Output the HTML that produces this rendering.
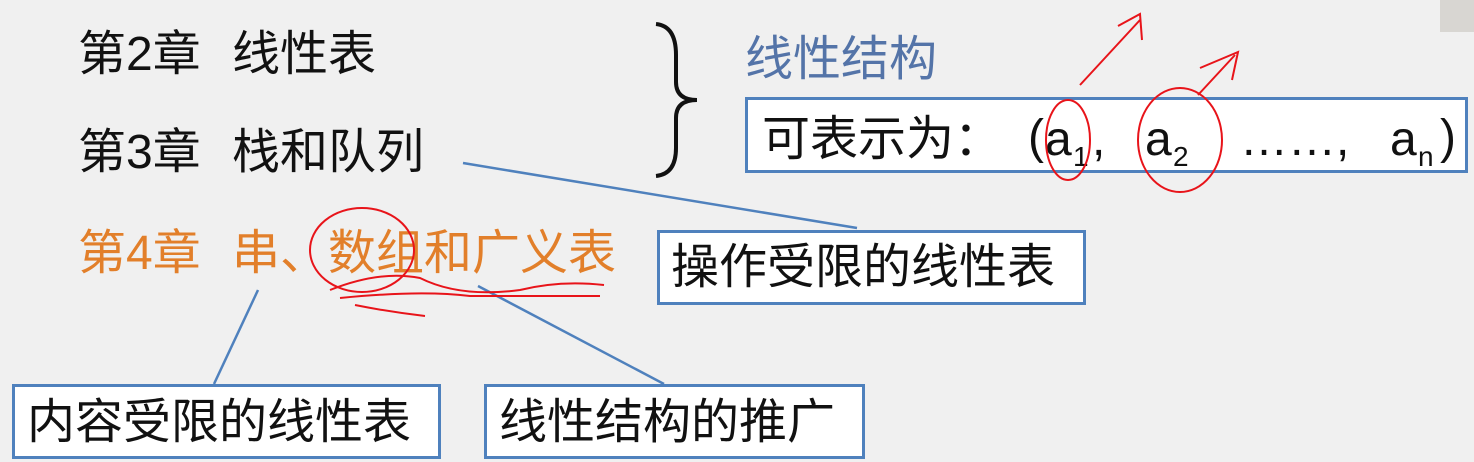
<!DOCTYPE html>
<html><head><meta charset="utf-8"><style>
html,body{margin:0;padding:0}
body{width:1474px;height:462px;background:#f0f0f0;position:relative;overflow:hidden;font-family:"Liberation Sans","Noto Sans CJK SC",sans-serif}
.t{position:absolute;font-size:48px;line-height:1;white-space:nowrap;color:#111}
.o{color:#e27f2a}
.b{position:absolute;background:#fff;border:3px solid #4f81bd;box-sizing:border-box}
.s{position:absolute;font-size:28px;line-height:1;color:#111}
</style></head><body>
<div class="t" style="left:78px;top:31px">第2章</div>
<div class="t" style="left:232px;top:31px">线性表</div>
<div class="t" style="left:78px;top:129px">第3章</div>
<div class="t" style="left:232px;top:129px">栈和队列</div>
<div class="t o" style="left:78px;top:230px">第4章</div>
<div class="t o" style="left:232px;top:230px">串、数组和广义表</div>
<div class="t" style="left:745px;top:36px;color:#5474a8">线性结构</div>
<div style="position:absolute;left:1440px;top:0;width:34px;height:32px;background:#d8d6d2"></div>

<div class="b" style="left:745px;top:97px;width:723px;height:76px"></div>
<div class="t" style="left:762px;top:116px">可表示为：</div>
<div class="t" style="left:1028px;top:114px">(</div>
<div class="t" style="left:1045px;top:116px">a</div>
<div class="s" style="left:1073px;top:143px">1</div>
<div class="t" style="left:1092px;top:116px">,</div>
<div class="t" style="left:1145px;top:116px">a</div>
<div class="s" style="left:1173px;top:143px">2</div>
<div class="t" style="left:1240px;top:116px">……,</div>
<div class="t" style="left:1390px;top:116px">a</div>
<div class="s" style="left:1418px;top:143px">n</div>
<div class="t" style="left:1440px;top:114px">)</div>

<div class="b" style="left:657px;top:230px;width:429px;height:75px"></div>
<div class="t" style="left:671px;top:244px">操作受限的线性表</div>
<div class="b" style="left:12px;top:384px;width:429px;height:75px"></div>
<div class="t" style="left:27px;top:399px">内容受限的线性表</div>
<div class="b" style="left:484px;top:384px;width:381px;height:75px"></div>
<div class="t" style="left:499px;top:399px">线性结构的推广</div>

<svg width="1474" height="462" style="position:absolute;left:0;top:0">
<g stroke="#4f81bd" stroke-width="2.5" fill="none">
<line x1="463" y1="163" x2="857" y2="228"/>
<line x1="258" y1="290" x2="214" y2="384"/>
<line x1="478" y1="286" x2="664" y2="384"/>
</g>
<path d="M656 24 Q676 26 676 55 L676 82 Q676 100 697 100 Q676 100 676 118 L676 148 Q676 174 656 176" stroke="#111" stroke-width="4" fill="none"/>
<g stroke="#e8141a" stroke-width="2" fill="none">
<ellipse cx="1068" cy="140" rx="22" ry="40"/>
<ellipse cx="1180" cy="140" rx="42" ry="52"/>
<path d="M1080 85 L1140 20 M1118 26 L1140 14 L1142 40"/>
<path d="M1198 95 L1235 55 M1200 68 L1238 52 L1232 80"/>
<ellipse cx="362" cy="250" rx="52" ry="42"/>
<path d="M330 290 Q380 270 420 278 Q460 298 520 290 Q560 280 604 285 M340 298 Q420 290 470 296 L600 296 M355 305 Q390 312 425 316"/>
</g>
</svg>
</body></html>
